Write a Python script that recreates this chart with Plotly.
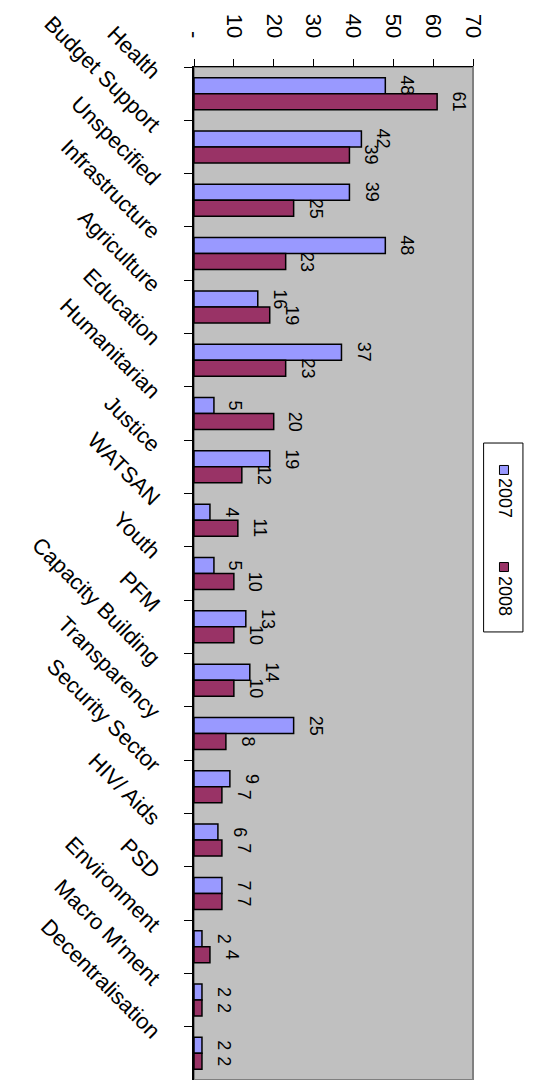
import plotly.graph_objects as go

categories = ["Health", "Budget Support", "Unspecified", "Infrastructure", "Agriculture",
              "Education", "Humanitarian", "Justice", "WATSAN", "Youth", "PFM",
              "Capacity Building", "Transparency", "Security Sector", "HIV/ Aids", "PSD",
              "Environment", "Macro M'ment", "Decentralisation"]
v2007 = [48, 42, 39, 48, 16, 37, 5, 19, 4, 5, 13, 14, 25, 9, 6, 7, 2, 2, 2]
v2008 = [61, 39, 25, 23, 19, 23, 20, 12, 11, 10, 10, 10, 8, 7, 7, 7, 4, 2, 2]
series_names = ["2007", "2008"]
series_colors = ["#9999FF", "#993366"]
tick_vals = [0, 10, 20, 30, 40, 50, 60, 70]
tick_text = ["-", "10", "20", "30", "40", "50", "60", "70"]

FONT = "Liberation Sans, Arial, sans-serif"

fig = go.Figure()
for name, vals, col in zip(series_names, [v2007, v2008], series_colors):
    fig.add_trace(go.Bar(
        y=categories, x=vals, orientation="h", name=name,
        marker=dict(color=col, line=dict(color="black", width=1.5)),
        showlegend=False, hoverinfo="skip",
    ))

# rotated value labels next to each bar end
for vals, ysh in zip([v2007, v2008], [8, -8]):
    for cat, v in zip(categories, vals):
        fig.add_annotation(x=v, y=cat, text=str(v), textangle=90, showarrow=False,
                           xanchor="left", yanchor="middle", xshift=10, yshift=ysh,
                           font=dict(family=FONT, size=18, color="black"))

fig.update_layout(
    width=533, height=1080,
    margin=dict(l=194, r=60, t=67, b=0),
    paper_bgcolor="white", plot_bgcolor="#C0C0C0",
    barmode="group", bargap=0.4, bargroupgap=0,
    font=dict(family=FONT, color="black"),
    xaxis=dict(side="top", range=[0, 70], tickvals=tick_vals, ticktext=tick_text,
               tickangle=90, ticks="outside", ticklen=7, tickcolor="black",
               showline=True, linecolor="black", linewidth=1,
               showgrid=False, zeroline=False, tickfont=dict(size=22),
               ticklabelstandoff=13),
    yaxis=dict(autorange="reversed", tickangle=45, ticks="outside", ticklen=8,
               tickcolor="black", tickson="boundaries",
               showline=True, linecolor="black", linewidth=1.5,
               showgrid=False, zeroline=False, tickfont=dict(size=22),
               ticklabelstandoff=29, ticklabelshift=18),
)

# plot border (right side grey)
fig.add_shape(type="rect", xref="paper", yref="paper", x0=0, x1=1, y0=0, y1=1,
              line=dict(color="#808080", width=2), layer="below")

# manual legend (rotated text)
fig.add_shape(type="rect", xref="paper", yref="paper", x0=1.038, x1=1.179,
              y0=0.4423, y1=0.6288, line=dict(color="black", width=1), fillcolor="white")
leg_sq_y = [0.6022, 0.5064]
leg_tx_y = [0.5745, 0.4778]
for name, col, sy, ty in zip(series_names, series_colors, leg_sq_y, leg_tx_y):
    fig.add_shape(type="rect", xref="paper", yref="paper", xsizemode="pixel",
                  ysizemode="pixel", xanchor=1.111, yanchor=sy,
                  x0=-4.5, x1=4.5, y0=-4.5, y1=4.5, fillcolor=col,
                  line=dict(color="black", width=1))
    fig.add_annotation(xref="paper", yref="paper", x=1.115, y=ty, text=name,
                       textangle=90, showarrow=False, xanchor="center", yanchor="middle",
                       font=dict(size=18, family=FONT, color="black"))

fig.write_html("out.html", config={"displayModeBar": False},
               post_script="document.body.style.margin='0';")
